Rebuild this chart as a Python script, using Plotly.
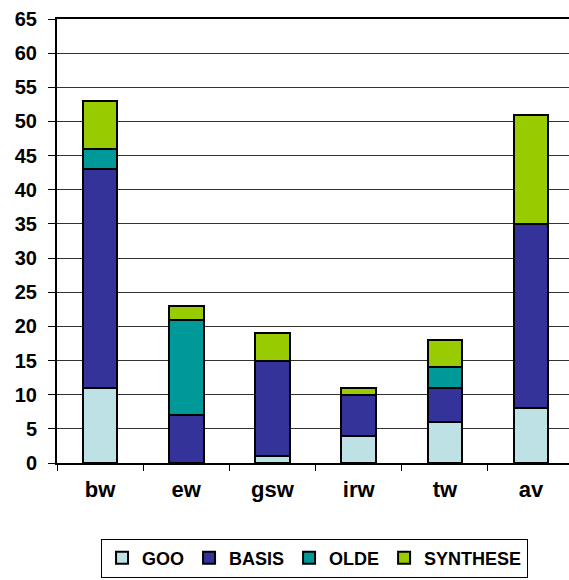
import plotly.graph_objects as go

categories = ["bw", "ew", "gsw", "irw", "tw", "av"]
goo = [11, 0, 1, 4, 6, 8]
basis = [32, 7, 14, 6, 5, 27]
olde = [3, 14, 0, 0, 3, 0]
synthese = [7, 2, 4, 1, 4, 16]
y_ticks = list(range(0, 70, 5))

series = [
    ("GOO", goo, "#BDE1E4"),
    ("BASIS", basis, "#333399"),
    ("OLDE", olde, "#009999"),
    ("SYNTHESE", synthese, "#99CC00"),
]

fig = go.Figure()
for name, vals, col in series:
    fig.add_trace(go.Bar(
        x=categories, y=vals, name="<b>" + name + "</b>",
        marker=dict(color=col, line=dict(color="black", width=2)),
        width=0.4,
    ))

font = "Liberation Sans, Arial, sans-serif"
fig.update_layout(
    barmode="stack",
    width=569, height=580,
    margin=dict(l=57, r=0, t=19, b=117, autoexpand=False),
    paper_bgcolor="white", plot_bgcolor="white",
    font=dict(family=font, size=16, color="black"),
    showlegend=True,
    legend=dict(
        orientation="h", x=0.503, xanchor="center", y=-0.214, yanchor="middle",
        bordercolor="black", borderwidth=1,
        font=dict(family=font, size=18, color="black"),
        traceorder="normal", itemwidth=30,
    ),
    xaxis=dict(
        range=[-0.5, 5.44], showline=True, linecolor="black", linewidth=2,
        mirror=True, ticks="outside", tickson="boundaries", ticklen=6,
        tickcolor="black", tickwidth=1, automargin=False,
        tickfont=dict(family=font, size=22, weight="bold"),
        ticklabelstandoff=6,
        showgrid=False,
    ),
    yaxis=dict(
        range=[0, 65], tickvals=y_ticks, showline=True, linecolor="black",
        linewidth=2, ticks="outside", ticklen=7, tickcolor="black",
        automargin=False, ticklabelstandoff=7,
        tickfont=dict(family=font, size=20, weight="bold"),
        showgrid=True, gridcolor="#333333", gridwidth=1, zeroline=False,
    ),
)

fig.write_html(
    "out.html",
    config={"displayModeBar": False},
    post_script="document.body.style.margin='0';document.body.style.overflow='hidden';",
)
